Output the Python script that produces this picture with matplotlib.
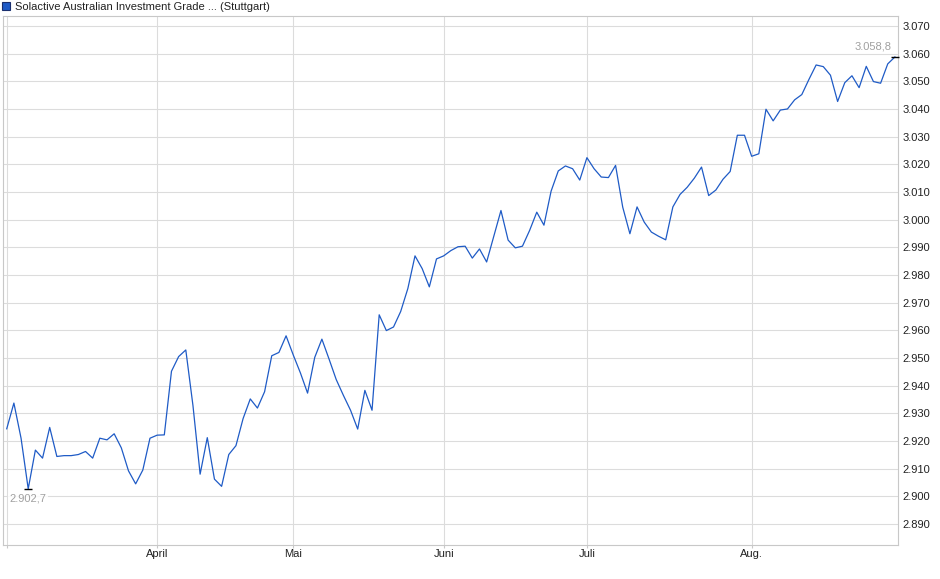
import matplotlib
matplotlib.use("Agg")
import matplotlib.pyplot as plt
from matplotlib.patches import Patch
from matplotlib.ticker import FuncFormatter, MultipleLocator

# ---- data (index level, trading days) ----
values = [
    2924.4, 2933.7, 2921.0, 2902.7, 2916.7, 2913.8, 2924.9, 2914.4, 2914.7, 2914.7,
    2915.1, 2916.2, 2913.8, 2921.0, 2920.4, 2922.6, 2917.5, 2909.2, 2904.5, 2909.5,
    2921.0, 2922.1, 2922.2, 2945.2, 2950.5, 2952.9, 2932.8, 2908.0, 2921.2, 2906.2,
    2903.6, 2915.1, 2918.3, 2928.1, 2935.2, 2931.9, 2937.8, 2950.8, 2952.0, 2958.0,
    2951.1, 2944.6, 2937.3, 2950.2, 2956.8, 2949.6, 2942.2, 2936.5, 2931.1, 2924.3,
    2938.3, 2931.1, 2965.6, 2959.9, 2961.2, 2966.8, 2975.1, 2986.9, 2982.3, 2975.7,
    2985.8, 2986.9, 2988.8, 2990.2, 2990.4, 2986.1, 2989.4, 2984.7, 2994.0, 3003.3,
    2992.6, 2989.8, 2990.4, 2996.1, 3002.7, 2998.0, 3010.3, 3017.6, 3019.4, 3018.4,
    3014.3, 3022.4, 3018.4, 3015.4, 3015.2, 3019.6, 3004.5, 2994.9, 3004.6, 2999.1,
    2995.5, 2994.0, 2992.7, 3004.6, 3009.1, 3011.7, 3015.0, 3019.0, 3008.7, 3010.7,
    3014.6, 3017.4, 3030.5, 3030.5, 3022.9, 3023.8, 3039.9, 3035.7, 3039.6, 3040.0,
    3043.3, 3045.2, 3050.7, 3055.9, 3055.3, 3052.2, 3042.7, 3049.5, 3052.0, 3047.7,
    3055.4, 3049.9, 3049.3, 3056.3, 3058.8,
]
month_labels = ["", "April", "Mai", "Juni", "Juli", "Aug."]
month_index = [0, 21, 40, 61, 81, 104]
title = "Solactive Australian Investment Grade ... (Stuttgart)"

x = list(range(len(values)))

plt.rcParams['font.family'] = ['Liberation Sans', 'DejaVu Sans']

fig = plt.figure(figsize=(9.40, 5.79), dpi=100)
W, H = 940, 579
ax = fig.add_axes([3 / W, 1 - 545 / H, (898 - 3) / W, (545 - 16) / H])

line_color = '#1f5bc6'
ax.plot(x, values, color=line_color, lw=0.9, zorder=3)

ax.set_xlim(-0.52, 124.43)
ax.set_ylim(2882.4, 3073.6)

# grid
ax.yaxis.set_major_locator(MultipleLocator(10))
ax.set_xticks(month_index)
ax.set_xticklabels(month_labels)
ax.grid(True, color='#dcdcdc', lw=0.8, zorder=0)
for s in ax.spines.values():
    s.set_color('#c8c8c8')
    s.set_linewidth(0.8)

ax.yaxis.tick_right()
ax.tick_params(axis='y', length=0, pad=3, labelsize=8, labelcolor='#222222')
ax.tick_params(axis='x', length=2, color='#c8c8c8', pad=1, labelsize=8, labelcolor='#222222')


def fmt(v, pos=None):
    s = f"{v:,.0f}".replace(",", ".")
    return s


ax.yaxis.set_major_formatter(FuncFormatter(fmt))


def de(v):
    s = f"{v:,.1f}"
    return s.replace(",", "X").replace(".", ",").replace("X", ".")


# min / max markers
imin = values.index(min(values))
imax = values.index(max(values))
for i in (imin, imax):
    ax.plot([x[i]], [values[i]], marker='_', markersize=6, mew=1.0, color='black',
            zorder=4, clip_on=False)
ax.annotate(de(values[imin]), (x[imin], values[imin]), xytext=(0, -10),
            textcoords='offset pixels', ha='center', va='center', fontsize=8,
            color='#a0a0a0', zorder=5,
            bbox=dict(facecolor='white', edgecolor='none', pad=1, alpha=0.85))
ax.annotate(de(values[imax]), (x[imax], values[imax]), xytext=(-3, 10),
            textcoords='offset pixels', ha='right', va='center', fontsize=8,
            color='#a0a0a0', zorder=5,
            bbox=dict(facecolor='white', edgecolor='none', pad=1, alpha=0.85))

# title as legend
fig.legend(handles=[Patch(facecolor=line_color, edgecolor='#1a2f6e', lw=0.8)],
           labels=[title], loc='upper left', bbox_to_anchor=(1 / W, 1 - 1 / H),
           bbox_transform=fig.transFigure, frameon=False, fontsize=8,
           handlelength=0.75, handleheight=0.75, handletextpad=0.45,
           borderpad=0.1, borderaxespad=0, labelcolor='#222222')

fig.savefig("out.png", dpi=100)
